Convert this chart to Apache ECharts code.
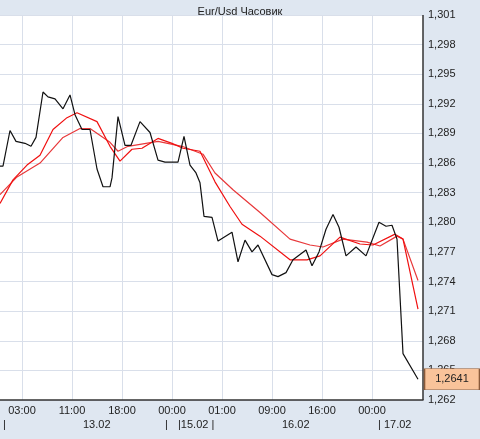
<!DOCTYPE html>
<html><head><meta charset="utf-8">
<script src="https://cdn.jsdelivr.net/npm/echarts@6/dist/echarts.min.js"></script>
<style>html,body{margin:0;padding:0;background:#dfe7f1}#c{width:480px;height:439px}</style>
</head><body><div id="c"></div>
<script>
const title = 'Eur/Usd Часовик';
const timeTicks = [4.4,14.4,24.4,34.4,44.4,54.4,64.4,74.4];
const timeLabels = ['03:00','11:00','18:00','00:00','01:00','09:00','16:00','00:00'];
const priceTicks = [1.262,1.265,1.268,1.271,1.274,1.277,1.280,1.283,1.286,1.289,1.292,1.295,1.298,1.301];
const lastPrice = 1.2641;
const price = [[0,1.2857],[0.6,1.2857],[2,1.2893],[3.2,1.2882],[5,1.2880],[6.2,1.2877],[7.2,1.2886],[8.6,1.2932],[9.6,1.2927],[11,1.2925],[12.6,1.2915],[14,1.2929],[15,1.2909],[16.4,1.2894],[18,1.2894],[19.4,1.2854],[20.6,1.2836],[22,1.2836],[22.4,1.2845],[23.6,1.2907],[25,1.2878],[26.2,1.2878],[28,1.2902],[30,1.2891],[31.6,1.2863],[33,1.2861],[35.6,1.2861],[36.8,1.2887],[38,1.2858],[39.2,1.2850],[40,1.2840],[40.8,1.2806],[42.4,1.2805],[43.6,1.2781],[46.4,1.2790],[47.6,1.2760],[49,1.2782],[50.4,1.2770],[51.6,1.2777],[54.4,1.2747],[55.6,1.2745],[57.2,1.2749],[58.6,1.2762],[61.2,1.2772],[62.4,1.2756],[63.8,1.2770],[65.2,1.2793],[66.6,1.2808],[67.8,1.2795],[69.2,1.2766],[71.2,1.2775],[73.2,1.2766],[75.8,1.2800],[77.2,1.2796],[78.4,1.2797],[79.4,1.2783],[80.6,1.2667],[83.6,1.2641]];
const maFast = [[0,1.2819],[2.6,1.2843],[5.4,1.2858],[8,1.2868],[10.6,1.2894],[13.4,1.2906],[15.4,1.2911],[19.4,1.2902],[22,1.2877],[24,1.2862],[26.4,1.2874],[28.4,1.2875],[31.6,1.2885],[34.4,1.2880],[36.6,1.2875],[40,1.2872],[43,1.2841],[46,1.2816],[48.4,1.2798],[52,1.2786],[58,1.2762],[61.4,1.2762],[64,1.2766],[68,1.2785],[72,1.2778],[74.6,1.2777],[79,1.2788],[80.6,1.2783],[83.6,1.2712]];
const maSlow = [[0,1.2828],[3.4,1.2846],[8,1.2860],[12.6,1.2886],[16,1.2895],[18,1.2895],[22,1.2881],[23.6,1.2872],[25.6,1.2877],[31.6,1.2882],[36.4,1.2877],[40.6,1.2869],[43,1.2850],[46.6,1.2833],[52,1.2810],[58,1.2783],[62,1.2777],[64.6,1.2775],[68.6,1.2783],[73.4,1.2780],[76,1.2776],[79.4,1.2786],[80.6,1.2783],[83.6,1.2741]];
const dateRow = [['|',3],['13.02',83],['|',165],['|15.02 |',178],['16.02',282],['| 17.02',378]];

const chart = echarts.init(document.getElementById('c'));
const font = 'Liberation Sans';
const G = {left:0,right:57,top:15,bottom:39};
chart.setOption({
  animation:false,
  backgroundColor:'#dfe7f1',
  title:{text:title,left:'center',top:1,textStyle:{fontSize:11,fontWeight:'normal',color:'#222',fontFamily:font}},
  grid:Object.assign({show:true,backgroundColor:'#fff',borderWidth:0},G),
  xAxis:{type:'value',min:0,max:84.6,
    axisLine:{show:true,onZero:false,lineStyle:{color:'#333',width:1.5}},
    axisTick:{show:false,customValues:timeTicks},
    axisLabel:{customValues:timeTicks,formatter:v=>{const i=timeTicks.findIndex(t=>Math.abs(t-v)<0.01);return i>=0?timeLabels[i]:'';},color:'#222',fontSize:11,fontFamily:font,margin:5},
    splitLine:{show:true,lineStyle:{color:'#d9dfea'}}},
  yAxis:{type:'value',position:'right',min:1.262,max:1.301,
    axisLine:{show:false},axisTick:{show:false,customValues:priceTicks},
    axisLabel:{customValues:priceTicks,formatter:v=>v.toFixed(3).replace('.',','),color:'#222',fontSize:11,fontFamily:font,margin:5},
    splitLine:{show:true,lineStyle:{color:'#d9dfea'}}},
  series:[
    {type:'line',data:maSlow,symbol:'none',lineStyle:{color:'#e8383a',width:1.2}},
    {type:'line',data:maFast,symbol:'none',lineStyle:{color:'#f01010',width:1.2}},
    {type:'line',data:price,symbol:'none',lineStyle:{color:'#111',width:1.2},
     markPoint:{symbol:'rect',symbolSize:[55,21],symbolOffset:[34,0],silent:true,
       data:[{coord:[price[price.length-1][0],lastPrice],value:lastPrice}],
       itemStyle:{color:'#f9c39a',borderColor:'#8a5a3a',borderWidth:1},
       label:{show:true,formatter:()=>lastPrice.toFixed(4).replace('.',','),color:'#222',fontSize:11,fontFamily:font}}}
  ],
  graphic:dateRow.map(d=>({type:'text',left:d[1],top:419,style:{text:d[0],fill:'#222',fontSize:11,fontFamily:font}}))
    .concat([{type:'line',z:5,shape:{x1:480-G.right,y1:G.top,x2:480-G.right,y2:439-G.bottom},style:{stroke:'#333',lineWidth:1.5}}])
});
</script></body></html>
